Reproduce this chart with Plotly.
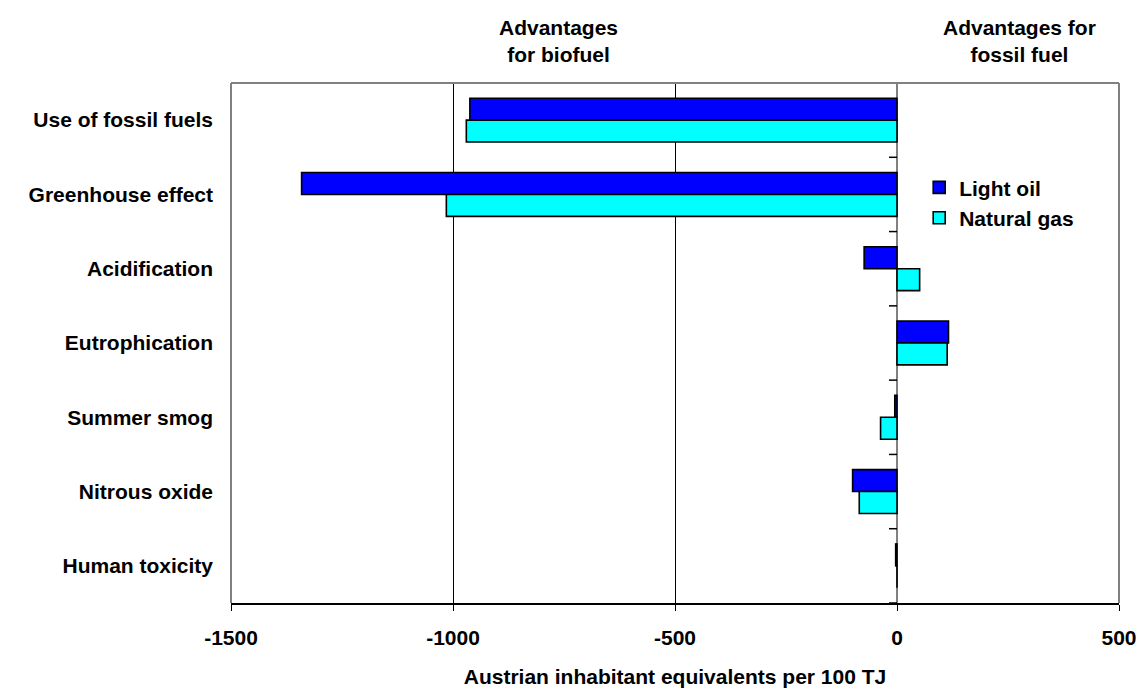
import plotly.graph_objects as go

# Impact categories, top to bottom
categories = [
    "Use of fossil fuels",
    "Greenhouse effect",
    "Acidification",
    "Eutrophication",
    "Summer smog",
    "Nitrous oxide",
    "Human toxicity",
]

# Austrian inhabitant equivalents per 100 TJ (negative = advantage for biofuel)
light_oil = [-962, -1341, -74, 116, -5, -100, -3]
natural_gas = [-970, -1015, 51, 113, -37, -85, 0]

x_ticks = [-1500, -1000, -500, 0, 500]

FONT = "Liberation Sans, Arial, sans-serif"
FS = 21

positions = list(range(len(categories)))

fig = go.Figure()
fig.add_trace(go.Bar(
    name="Light oil", y=positions, x=light_oil, orientation="h",
    marker=dict(color="#0000FF", line=dict(color="black", width=1.6)),
    legendgroup="a",
))
fig.add_trace(go.Bar(
    name="Natural gas", y=positions, x=natural_gas, orientation="h",
    marker=dict(color="#00FFFF", line=dict(color="black", width=1.6)),
    legendgroup="b",
))

# small tick marks on the category axis, which crosses at zero
shapes = []
for i in range(len(categories) + 1):
    b = i - 0.5
    shapes.append(dict(
        type="line", xref="x", yref="y", xsizemode="pixel", xanchor=0,
        x0=-8, x1=0, y0=b, y1=b, line=dict(color="black", width=1.5),
        layer="above",
    ))
# grey frame (left, top, right)
for x0, y0, x1, y1 in [(0, 0, 0, 1), (0, 1, 1, 1), (1, 0, 1, 1)]:
    shapes.append(dict(
        type="line", xref="paper", yref="paper", x0=x0, y0=y0, x1=x1, y1=y1,
        line=dict(color="#808080", width=2), layer="above",
    ))

annotations = [
    dict(text="Advantages<br>for biofuel", x=-762, xref="x", y=1.081, yref="paper",
         showarrow=False, xanchor="center", yanchor="middle",
         font=dict(family=FONT, size=FS, color="black", weight="bold")),
    dict(text="Advantages for<br>fossil fuel", x=275, xref="x", y=1.081, yref="paper",
         showarrow=False, xanchor="center", yanchor="middle",
         font=dict(family=FONT, size=FS, color="black", weight="bold")),
]

fig.update_layout(
    width=1141, height=693,
    margin=dict(l=231, r=22, t=83, b=90),
    paper_bgcolor="white", plot_bgcolor="white",
    font=dict(family=FONT, size=FS, color="black", weight="bold"),
    barmode="group", bargap=0.41, bargroupgap=0,
    shapes=shapes, annotations=annotations,
    showlegend=True,
    legend=dict(
        x=0.775, xanchor="left", y=0.838, yanchor="top",
        bgcolor="rgba(0,0,0,0)", tracegroupgap=0,
        font=dict(family=FONT, size=FS, color="black", weight="bold"),
    ),
    xaxis=dict(
        range=[-1500, 500], tickvals=x_ticks, ticktext=[str(v) for v in x_ticks],
        automargin=False,
        showgrid=True, gridcolor="black", gridwidth=1,
        zeroline=True, zerolinecolor="#808080", zerolinewidth=2,
        showline=True, linecolor="black", linewidth=1.5,
        ticks="outside", ticklen=6, tickcolor="black", tickwidth=1,
        tickfont=dict(family=FONT, size=FS, color="black", weight="bold"),
        ticklabelstandoff=9,
        title=dict(text="Austrian inhabitant equivalents per 100 TJ", standoff=21,
                   font=dict(family=FONT, size=FS, color="black", weight="bold")),
    ),
    yaxis=dict(
        range=[len(categories) - 0.5, -0.5],
        tickvals=positions, ticktext=categories,
        automargin=False,
        showgrid=False, zeroline=False, showline=False,
        ticks="", ticklabelstandoff=17,
        tickfont=dict(family=FONT, size=FS, color="black", weight="bold"),
    ),
)

fig.write_html("out.html")
